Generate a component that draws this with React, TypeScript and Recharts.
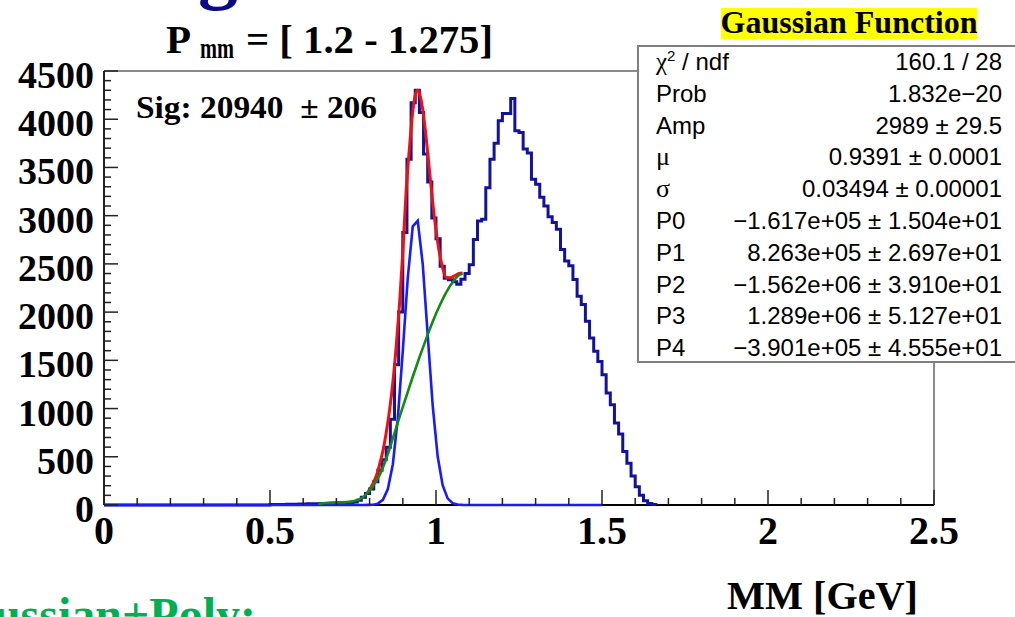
import React from 'react';
import { ComposedChart, Line, XAxis, YAxis, ReferenceLine } from 'recharts';

// ---------- data ----------
const BIN_START = 0.5;
const BIN_WIDTH = 0.0125;
// histogram counts, bins starting at 0.5 GeV, width 0.0125 GeV
const histCounts = [
  4, 5, 5, 6, 7, 8, 9, 10, 11, 12,
  13, 14, 15, 16, 17, 18, 20, 22, 24, 27,
  32, 48, 80, 120, 165, 240, 360, 470, 600, 890,
  1455, 2000, 2825, 3585, 4170, 4300, 4070, 3640, 3350, 2975,
  2760, 2475, 2350, 2335, 2315, 2290, 2340, 2400, 2490, 2754,
  2944, 2962, 3290, 3585, 3750, 3984, 4060, 4060, 4215, 3880,
  3862, 3690, 3650, 3378, 3326, 3190, 3100, 2990, 2930, 2858,
  2650, 2530, 2480, 2338, 2165, 2079, 1905, 1732, 1593, 1489,
  1351, 1160, 1039, 849, 735, 554, 433, 300, 190, 100,
  45, 15, 4,
];

// Gaussian signal curve
const gaussX = [0, 0.78, 0.795, 0.81, 0.825, 0.84, 0.855, 0.87, 0.885, 0.9, 0.915, 0.93, 0.945, 0.96, 0.975, 0.99, 1.005, 1.02, 1.035, 1.05, 1.065, 1.08, 1.095, 1.5];
const gaussY = [0, 0, 1, 3, 14, 54, 165, 423, 901, 1598, 2356, 2889, 2947, 2499, 1763, 1034, 505, 205, 69, 19, 5, 1, 0, 0];

// total fit (Gaussian + polynomial)
const totalX = [0.79, 0.8, 0.81, 0.82, 0.83, 0.84, 0.85, 0.86, 0.87, 0.88, 0.89, 0.9, 0.91, 0.92, 0.93, 0.94, 0.945, 0.95, 0.96, 0.97, 0.98, 0.99, 1.0, 1.01, 1.02, 1.03, 1.04, 1.05, 1.06, 1.07, 1.08];
const totalY = [110, 160, 220, 300, 420, 560, 750, 980, 1270, 1640, 2080, 2620, 3250, 3700, 4080, 4280, 4300, 4270, 4100, 3820, 3480, 3140, 2850, 2620, 2460, 2360, 2355, 2365, 2385, 2400, 2405];

// polynomial background
const bkgX = [0.645, 0.67, 0.69, 0.71, 0.73, 0.75, 0.77, 0.79, 0.8, 0.81, 0.83, 0.85, 0.87, 0.89, 0.91, 0.93, 0.95, 0.97, 0.99, 1.01, 1.03, 1.05, 1.07, 1.08];
const bkgY = [12, 20, 25, 27, 30, 38, 60, 110, 150, 195, 310, 480, 690, 910, 1120, 1330, 1530, 1720, 1900, 2060, 2200, 2310, 2385, 2400];

const X_MIN = 0;
const X_MAX = 2.5;
const Y_MIN = 0;
const Y_MAX = 4500;
const xMajorTicks = [0, 0.5, 1, 1.5, 2, 2.5];
const xTickLabels = ['0', '0.5', '1', '1.5', '2', '2.5'];
const X_MINOR_STEP = 0.1;
const yMajorTicks = [0, 500, 1000, 1500, 2000, 2500, 3000, 3500, 4000, 4500];
const yTickLabels = ['0', '500', '1000', '1500', '2000', '2500', '3000', '3500', '4000', '4500'];
const Y_MINOR_STEP = 100;

const statLabels = ['χ² / ndf', 'Prob', 'Amp', 'μ', 'σ', 'P0', 'P1', 'P2', 'P3', 'P4'];
const statValues = [
  '160.1 / 28',
  '1.832e−20',
  '2989 ± 29.5',
  '0.9391 ± 0.0001',
  '0.03494 ± 0.00001',
  '−1.617e+05 ± 1.504e+01',
  '8.263e+05 ± 2.697e+01',
  '−1.562e+06 ± 3.910e+01',
  '1.289e+06 ± 5.127e+01',
  '−3.901e+05 ± 4.555e+01',
];

// ---------- derived series ----------
const histData = [
  { x: X_MIN, y: 0 },
  ...histCounts.map((c, i) => ({ x: BIN_START + i * BIN_WIDTH, y: c })),
  { x: BIN_START + histCounts.length * BIN_WIDTH, y: 0 },
];
const gaussData = gaussX.map((x, i) => ({ x, y: gaussY[i] }));
const totalData = totalX.map((x, i) => ({ x, y: totalY[i] }));
const bkgData = bkgX.map((x, i) => ({ x, y: bkgY[i] }));
const axisBaseData = [{ x: X_MIN, y: Y_MIN }, { x: X_MAX, y: Y_MIN }];

const xTicks = Array.from({ length: Math.round((X_MAX - X_MIN) / X_MINOR_STEP) + 1 }, (_, i) => Math.round((X_MIN + i * X_MINOR_STEP) * 1000) / 1000);
const yTicks = Array.from({ length: Math.round((Y_MAX - Y_MIN) / Y_MINOR_STEP) + 1 }, (_, i) => Y_MIN + i * Y_MINOR_STEP);

const SERIF = '"Liberation Serif", "Times New Roman", serif';
const SANS = '"Liberation Sans", Arial, sans-serif';

const XTick = (props: any) => {
  const { x, y, payload } = props;
  const v = payload.value;
  const idx = xMajorTicks.findIndex((m) => Math.abs(m - v) < 1e-6);
  const len = idx >= 0 ? 15 : 7;
  return (
    <g>
      <line x1={x} x2={x} y1={y} y2={y - len} stroke="#222" strokeWidth={1.5} />
      {idx >= 0 && (
        <text x={x} y={y + 39} textAnchor="middle" fontFamily={SERIF} fontWeight="bold" fontSize={40} fill="#000">
          {xTickLabels[idx]}
        </text>
      )}
    </g>
  );
};

const YTick = (props: any) => {
  const { x, y, payload } = props;
  const v = payload.value;
  const idx = yMajorTicks.findIndex((m) => Math.abs(m - v) < 1e-6);
  const len = idx >= 0 ? 14 : 7;
  return (
    <g>
      <line x1={x} x2={x + len} y1={y} y2={y} stroke="#222" strokeWidth={1.5} />
      {idx >= 0 && (
        <text x={x - 10} y={y + 17} textAnchor="end" fontFamily={SERIF} fontWeight="bold" fontSize={38} fill="#000">
          {yTickLabels[idx]}
        </text>
      )}
    </g>
  );
};

export default function App() {
  return (
    <div style={{ position: 'absolute', left: 0, top: 0, width: 1015, height: 617, overflow: 'hidden', background: '#fff' }}>
      <ComposedChart width={1015} height={617} margin={{ top: 71, right: 81, bottom: 72, left: 4 }}>
        <XAxis
          dataKey="x"
          type="number"
          domain={[X_MIN, X_MAX]}
          ticks={xTicks}
          interval={0}
          tickSize={0}
          tickMargin={0}
          tickLine={false}
          tick={<XTick />}
          axisLine={false}
          height={40}
        />
        <YAxis
          type="number"
          domain={[Y_MIN, Y_MAX]}
          ticks={yTicks}
          interval={0}
          tickSize={0}
          tickMargin={0}
          tickLine={false}
          tick={<YTick />}
          axisLine={{ stroke: '#222', strokeWidth: 2 }}
          width={100}
        />
        <ReferenceLine y={Y_MAX} stroke="#8a8a8a" strokeWidth={2} />
        <ReferenceLine x={X_MAX} stroke="#8a8a8a" strokeWidth={2} />
        <Line data={axisBaseData} dataKey="y" type="linear" stroke="#000" strokeWidth={2} dot={false} isAnimationActive={false} />
        <Line data={histData} dataKey="y" type="stepAfter" stroke="#12129c" strokeWidth={3} dot={false} isAnimationActive={false} />
        <Line data={gaussData} dataKey="y" type="linear" stroke="#1a1aff" strokeWidth={2.6} dot={false} isAnimationActive={false} />
        <Line data={totalData} dataKey="y" type="monotone" stroke="#f01010" strokeWidth={3} dot={false} isAnimationActive={false} />
        <Line data={bkgData} dataKey="y" type="monotone" stroke="#138a13" strokeWidth={2.6} dot={false} isAnimationActive={false} />
      </ComposedChart>

      <svg width={1015} height={617} style={{ position: 'absolute', left: 0, top: 0, pointerEvents: 'none' }}>
        <text x={218} y={-6} textAnchor="middle" fontFamily={SERIF} fontWeight="bold" fontSize={80} fill="#0b0b8a">g</text>
        <text x={166} y={53} fontFamily={SERIF} fontWeight="bold" fontSize={41} fill="#000">P</text>
        <text x={200} y={58} fontFamily={SERIF} fontWeight="bold" fontSize={30} fill="#000" textLength={34} lengthAdjust="spacingAndGlyphs">mm</text>
        <text x={246} y={53} fontFamily={SERIF} fontWeight="bold" fontSize={40} fill="#000" style={{ whiteSpace: 'pre' }} textLength={247} lengthAdjust="spacingAndGlyphs">= [ 1.2 - 1.275]</text>
        <text x={136} y={118} fontFamily={SERIF} fontWeight="bold" fontSize={31} fill="#000" style={{ whiteSpace: 'pre' }} textLength={241} lengthAdjust="spacingAndGlyphs">Sig: 20940  ± 206</text>
        <rect x={721} y={8} width={256} height={31} fill="#ffff00" />
        <text x={849} y={33} textAnchor="middle" fontFamily={SERIF} fontWeight="bold" fontSize={32} fill="#000">Gaussian Function</text>
        <text x={727} y={609} fontFamily={SERIF} fontWeight="bold" fontSize={41} fill="#000" textLength={191} lengthAdjust="spacingAndGlyphs">MM [GeV]</text>
        <text x={256} y={631} textAnchor="end" fontFamily={SERIF} fontWeight="bold" fontSize={48} fill="#00b050">Gaussian+Poly:</text>
      </svg>

      <div
        style={{
          position: 'absolute',
          left: 637,
          top: 45,
          width: 420,
          height: 318,
          boxSizing: 'border-box',
          border: '2px solid #7f7f7f',
          background: '#fff',
          fontFamily: SANS,
          fontSize: 24,
          color: '#000',
        }}
      >
        {statLabels.map((lab, i) => (
          <div
            key={lab}
            style={{
              position: 'absolute',
              left: 17,
              top: i * 31.8 - 1,
              width: 346,
              height: 31.8,
              lineHeight: '31.8px',
              display: 'flex',
              justifyContent: 'space-between',
              whiteSpace: 'pre',
            }}
          >
            <span>
              {i === 0 ? (
                <>
                  <span style={{ fontFamily: SERIF, fontSize: 25 }}>χ</span>
                  <span style={{ fontSize: 15, position: 'relative', top: -9, lineHeight: 0 }}>2</span>
                  <span> / ndf</span>
                </>
              ) : i === 3 || i === 4 ? (
                <span style={{ fontFamily: SERIF, fontSize: 26 }}>{lab}</span>
              ) : (
                lab
              )}
            </span>
            <span>{statValues[i]}</span>
          </div>
        ))}
      </div>
    </div>
  );
}
